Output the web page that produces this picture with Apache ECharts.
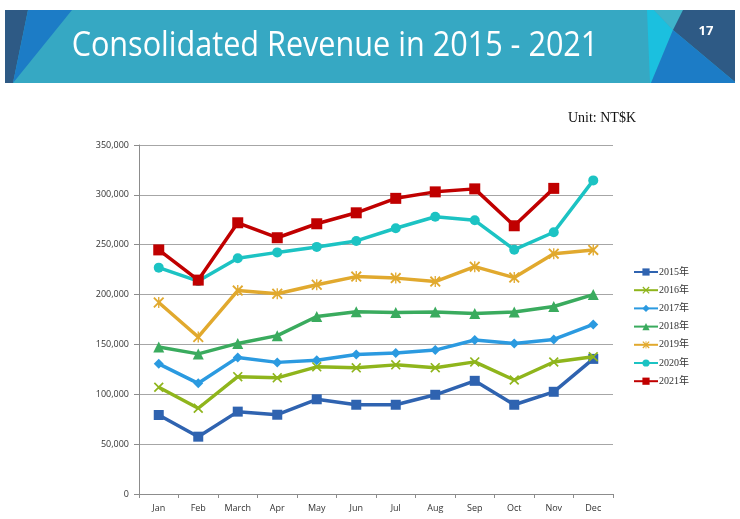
<!DOCTYPE html>
<html>
<head>
<meta charset="utf-8">
<script src="https://cdn.jsdelivr.net/npm/echarts@6/dist/echarts.min.js"></script>
<style>
html,body{margin:0;padding:0;background:#fff;}
#main{width:740px;height:519px;}
</style>
</head>
<body>
<div id="main"></div>
<script>
var months = ['Jan','Feb','March','Apr','May','Jun','Jul','Aug','Sep','Oct','Nov','Dec'];
var seriesNames = ['2015年','2016年','2017年','2018年','2019年','2020年','2021年'];
var y2015 = [79200, 57500, 82600, 79500, 95000, 89500, 89500, 99500, 113500, 89500, 102500, 135500];
var y2016 = [107000, 86000, 117700, 116500, 127500, 126500, 129500, 126700, 132500, 114300, 132400, 137700];
var y2017 = [130500, 111000, 137000, 132000, 134200, 139800, 141500, 144300, 154500, 151000, 155000, 170000];
var y2018 = [147500, 140500, 151000, 158800, 178000, 182800, 182000, 182500, 181000, 182500, 188000, 200000];
var y2019 = [192000, 157500, 204000, 200800, 209800, 218000, 216500, 213000, 228000, 217000, 241000, 244800];
var y2020 = [227000, 213500, 236500, 242300, 247800, 253800, 266500, 278000, 274500, 245000, 262500, 314500];
var y2021 = [244800, 214500, 272000, 257000, 271000, 282000, 296500, 303000, 306000, 269000, 306500, null];
var yTicks = [0, 50000, 100000, 150000, 200000, 250000, 300000, 350000];

var colors = ['#2f63b0', '#8fb51c', '#2b9ae0', '#3aab5e', '#e1a92e', '#1cc3c3', '#c00000'];
var xPath = 'path://M0,1.2 L1.2,0 L5,3.8 L8.8,0 L10,1.2 L6.2,5 L10,8.8 L8.8,10 L5,6.2 L1.2,10 L0,8.8 L3.8,5 Z';
var starPath = 'path://M0,1.2 L1.2,0 L5,3.8 L8.8,0 L10,1.2 L6.2,5 L10,8.8 L8.8,10 L5,6.2 L1.2,10 L0,8.8 L3.8,5 Z M4.4,0 L5.6,0 L5.6,10 L4.4,10 Z';
var symbols = ['rect', xPath, 'diamond', 'triangle', starPath, 'circle', 'rect'];
var sizes = [10, 10, 10, 11, 11, 10, 11];
var allData = [y2015, y2016, y2017, y2018, y2019, y2020, y2021];

var chart = echarts.init(document.getElementById('main'), null, {renderer: 'canvas'});

var series = allData.map(function (d, i) {
  return {
    name: seriesNames[i],
    type: 'line',
    data: d,
    symbol: symbols[i],
    symbolSize: sizes[i],
    showAllSymbol: true,
    lineStyle: {color: colors[i], width: 3.5},
    itemStyle: {color: colors[i]},
    z: 2 + i
  };
});

var option = {
  animation: false,
  backgroundColor: '#ffffff',
  grid: {left: 139, right: 127, top: 145, bottom: 25, containLabel: false},
  legend: {
    orient: 'vertical',
    left: 628,
    top: 262,
    itemWidth: 24,
    itemHeight: 9,
    itemGap: 8.2,
    data: seriesNames,
    textStyle: {fontSize: 10, color: '#333', fontFamily: 'Liberation Serif, Noto Sans CJK SC', padding: [0, 0, 0, -4]}
  },
  xAxis: {
    type: 'category',
    data: months,
    boundaryGap: true,
    axisLine: {lineStyle: {color: '#8c8c8c', width: 1}},
    axisTick: {show: true, alignWithLabel: false, length: 4, lineStyle: {color: '#8c8c8c'}},
    axisLabel: {fontSize: 9, color: '#333', margin: 10, fontFamily: 'Open Sans'},
    splitLine: {show: false}
  },
  yAxis: {
    type: 'value',
    min: 0,
    max: 350000,
    interval: 50000,
    axisLine: {show: true, lineStyle: {color: '#8c8c8c', width: 1}},
    axisTick: {show: true, length: 5, lineStyle: {color: '#8c8c8c'}},
    axisLabel: {
      fontSize: 9, color: '#333', margin: 10, fontFamily: 'Open Sans',
      formatter: function (v) { return v === 0 ? '0' : v.toLocaleString('en-US'); }
    },
    splitLine: {show: true, lineStyle: {color: '#a6a6a6', width: 1}}
  },
  series: series,
  graphic: [
    {type: 'rect', shape: {x: 5, y: 10, width: 730, height: 73}, style: {fill: '#36a8c3'}, z: 0},
    {type: 'polygon', shape: {points: [[5, 10], [28, 10], [13, 83], [5, 83]]}, style: {fill: '#2e5a85'}, z: 1},
    {type: 'polygon', shape: {points: [[28, 10], [72, 10], [13, 83]]}, style: {fill: '#1c7cc6'}, z: 1},
    {type: 'polygon', shape: {points: [[647, 10], [654, 10], [673, 30], [651, 83], [650, 83]]}, style: {fill: '#1bc0df'}, z: 1},
    {type: 'polygon', shape: {points: [[654, 10], [683, 10], [673, 30]]}, style: {fill: '#3fb3c9'}, z: 1},
    {type: 'polygon', shape: {points: [[683, 10], [735, 10], [735, 82], [673, 30]]}, style: {fill: '#2e5a85'}, z: 1},
    {type: 'polygon', shape: {points: [[673, 30], [735, 82], [735, 83], [651, 83]]}, style: {fill: '#1c7cc6'}, z: 1},
    {type: 'text', x: 335, y: 46, z: 3, scaleX: 0.9, style: {text: 'Consolidated Revenue in 2015 - 2021', fill: '#ffffff', font: '34px "Open Sans"', textAlign: 'center', textVerticalAlign: 'middle'}},
    {type: 'text', x: 706, y: 31, z: 3, style: {text: '17', fill: '#ffffff', font: 'bold 13px "Open Sans"', textAlign: 'center', textVerticalAlign: 'middle'}},
    {type: 'text', x: 636, y: 118, z: 3, style: {text: 'Unit: NT$K', fill: '#111', font: '14px "Liberation Serif"', textAlign: 'right', textVerticalAlign: 'middle'}}
  ]
};
chart.setOption(option);
</script>
</body>
</html>
